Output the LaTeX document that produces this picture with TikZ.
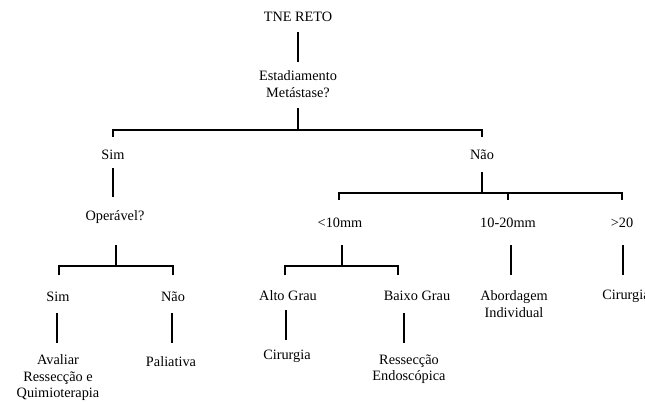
\documentclass[tikz,border=0pt]{standalone}
\usepackage{fontspec}
\setmainfont{Liberation Serif}
\begin{document}
\begin{tikzpicture}[x=1pt,y=-1pt,
  lbl/.style={inner sep=0pt,align=center,font=\fontsize{14.3}{16.5}\selectfont},
  conn/.style={line width=1.8pt}]
\useasboundingbox (0,0) rectangle (645,404);
\clip (0,0) rectangle (645,404);
% nodes
\node[lbl] (tne) at (298,17) {TNE RETO};
\node[lbl] (est) at (298,84) {Estadiamento\\Metástase?};
\node[lbl] (sim1) at (113,155) {Sim};
\node[lbl] (nao1) at (482,155) {Não};
\node[lbl] (oper) at (115,217) {Operável?};
\node[lbl] (lt10) at (340,223) {<10mm};
\node[lbl] (mid) at (508,223) {10-20mm};
\node[lbl] (gt20) at (622,223) {>20};
\node[lbl] (sim2) at (58,297) {Sim};
\node[lbl] (nao2) at (173,297) {Não};
\node[lbl] (alto) at (288,296) {Alto Grau};
\node[lbl] (baixo) at (417,296) {Baixo Grau};
\node[lbl] (abord) at (514,304) {Abordagem\\Individual};
\node[lbl] (cir2) at (626,296) {Cirurgia};
\node[lbl] (aval) at (58,378) {Avaliar\\Ressecção e\\Quimioterapia};
\node[lbl] (pali) at (171,362) {Paliativa};
\node[lbl] (cir1) at (287,356) {Cirurgia};
\node[lbl] (resse) at (409,369) {Ressecção\\Endoscópica};
% coordinates for bars
\coordinate (b1) at (298,130);
\coordinate (b2) at (482,193);
\coordinate (b3) at (116,266);
\coordinate (b4) at (342,266);
% connectors
\draw[conn] (tne.south |- 0,32) -- (tne.south |- 0,62);
\draw[conn] (298,108) -- (b1);
\draw[conn] (113,137) -- (113,130) -- (482,130) -- (482,137);
\draw[conn] (113,168) -- (113,197);
\draw[conn] (482,172) -- (b2);
\draw[conn] (339,200) -- (339,193) -- (622,193) -- (622,200);
\draw[conn] (508,193) -- (508,200);
\draw[conn] (116,245) -- (b3);
\draw[conn] (59,275) -- (59,266) -- (173,266) -- (173,275);
\draw[conn] (342,245) -- (b4);
\draw[conn] (285,275) -- (285,266) -- (398,266) -- (398,275);
\draw[conn] (511,245) -- (511,275);
\draw[conn] (623,245) -- (623,275);
\draw[conn] (57,313) -- (57,343);
\draw[conn] (172,313) -- (172,343);
\draw[conn] (286,310) -- (286,340);
\draw[conn] (404,313) -- (404,343);
\end{tikzpicture}
\end{document}
